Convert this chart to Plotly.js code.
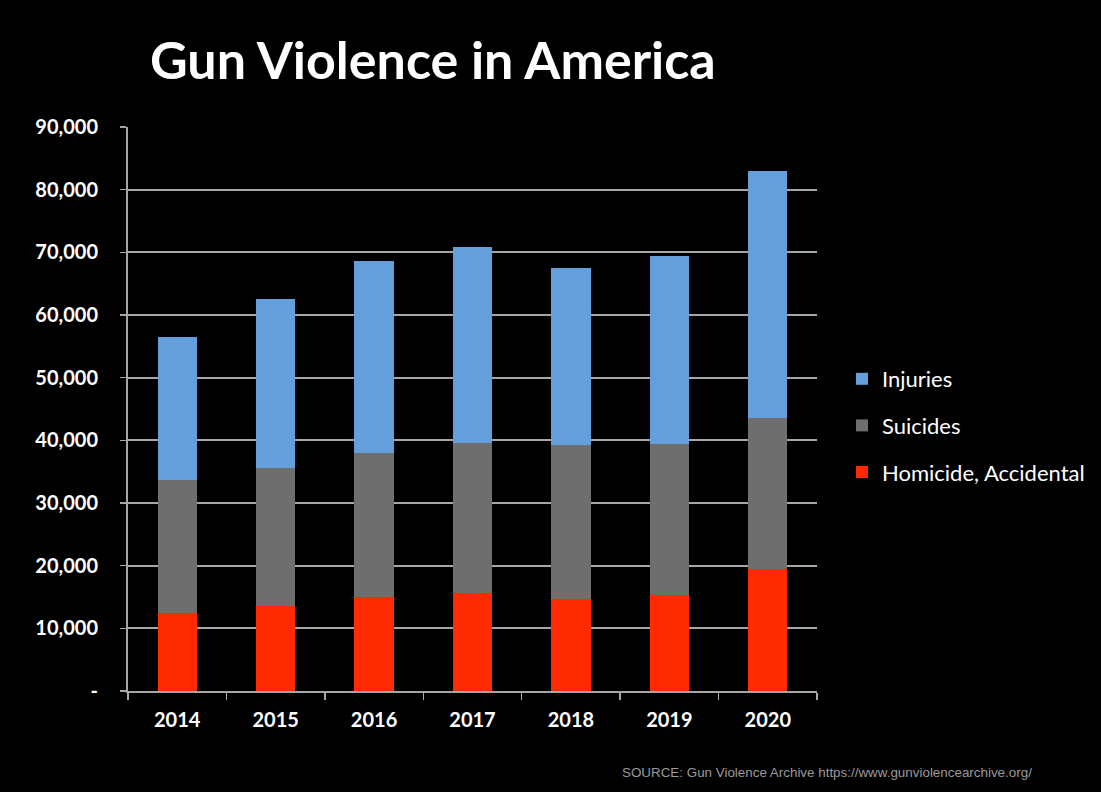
<!DOCTYPE html>
<html>
<head>
<meta charset="utf-8">
<script src="https://cdn.plot.ly/plotly-3.0.1.min.js"></script>
<style>
  html, body { margin: 0; padding: 0; background: #000; }
  #chart { width: 1101px; height: 792px; }
</style>
</head>
<body>
<div id="chart"></div>
<script>
const years = ["2014", "2015", "2016", "2017", "2018", "2019", "2020"];
const homicideAccidental = [12450, 13560, 15000, 15640, 14680, 15320, 19470];
const suicides = [21220, 22020, 22980, 23930, 24570, 24090, 24090];
const injuries = [22820, 26970, 30630, 31280, 28250, 30000, 39410];
const yTickVals = [0, 10000, 20000, 30000, 40000, 50000, 60000, 70000, 80000, 90000];
const yTickText = ["-", "10,000", "20,000", "30,000", "40,000", "50,000", "60,000", "70,000", "80,000", "90,000"];

const traces = [
  { type: "bar", name: "Homicide, Accidental", x: years, y: homicideAccidental,
    marker: { color: "#FF2A00" }, legendgroup: "a", legendrank: 3 },
  { type: "bar", name: "Suicides", x: years, y: suicides,
    marker: { color: "#6E6E6E" }, legendgroup: "b", legendrank: 2 },
  { type: "bar", name: "Injuries", x: years, y: injuries,
    marker: { color: "#659FDB" }, legendgroup: "c", legendrank: 1 }
];

const layout = {
  width: 1101, height: 792,
  paper_bgcolor: "#000", plot_bgcolor: "#000",
  barmode: "stack", bargap: 0.6,
  margin: { l: 128, r: 283, t: 127, b: 101 },
  font: { family: "Lato, 'Open Sans', sans-serif", color: "#fff" },
  title: {
    text: "<b>Gun Violence in America</b>",
    font: { family: "Lato, sans-serif", size: 52, color: "#fff" },
    x: 150 / 1101, xanchor: "left", xref: "container",
    y: 1 - 61 / 792, yanchor: "middle", yref: "container"
  },
  xaxis: {
    type: "category",
    showline: true, linecolor: "#A6A6A6", linewidth: 2,
    ticks: "outside", tickson: "boundaries", ticklen: 7, tickcolor: "#A6A6A6", tickwidth: 1.5,
    tickfont: { family: "Lato, sans-serif", size: 20, color: "#fff", weight: "bold" },
    ticklabelstandoff: 10,
    showgrid: false, fixedrange: true
  },
  yaxis: {
    range: [0, 90000],
    tickvals: yTickVals, ticktext: yTickText,
    showline: true, linecolor: "#A6A6A6", linewidth: 2,
    ticks: "outside", ticklen: 6, tickcolor: "#A6A6A6", tickwidth: 1.5,
    showgrid: true, gridcolor: "#A6A6A6", gridwidth: 2,
    zeroline: false,
    tickfont: { family: "Lato, sans-serif", size: 20, color: "#fff", weight: "bold" },
    ticklabelstandoff: 18,
    fixedrange: true
  },
  legend: {
    x: (842 - 128) / 690, xanchor: "left", y: (691 - 358) / 564, yanchor: "top",
    traceorder: "grouped", tracegroupgap: 15,
    font: { family: "Lato, sans-serif", size: 22, color: "#fff" },
    bgcolor: "rgba(0,0,0,0)", itemwidth: 30
  },
  annotations: [{
    text: "SOURCE: Gun Violence Archive https://www.gunviolencearchive.org/",
    xref: "paper", yref: "paper", x: (1035 - 128) / 690, xanchor: "right",
    y: -81 / 564, yanchor: "middle",
    showarrow: false,
    font: { family: "'Liberation Sans', Arial, sans-serif", size: 13.4, color: "#9A9A9A" }
  }],
  showlegend: true
};

Plotly.newPlot("chart", traces, layout, { displayModeBar: false, staticPlot: true });
</script>
</body>
</html>
